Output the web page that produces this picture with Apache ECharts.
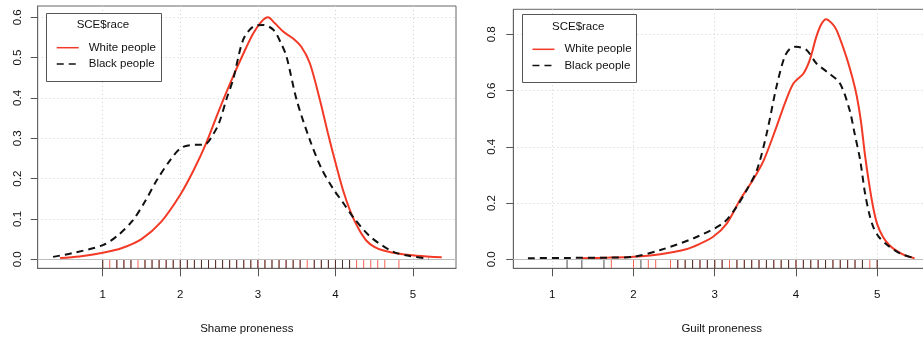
<!DOCTYPE html>
<html>
<head>
<meta charset="utf-8">
<script src="https://cdn.jsdelivr.net/npm/echarts@6/dist/echarts.min.js"></script>
<style>
html,body{margin:0;padding:0;background:#fff;}
#chart{width:923px;height:337px;}
</style>
</head>
<body>
<div id="chart"></div>
<script>
// ---------- data ----------
const legendTitle = 'SCE$race';
const groupNames = ['White people', 'Black people'];
const xTickValues = [1, 2, 3, 4, 5];
const shameYTicks = [0, 0.1, 0.2, 0.3, 0.4, 0.5, 0.6];
const guiltYTicks = [0, 0.2, 0.4, 0.6, 0.8];
const shameTitle = 'Shame proneness';
const guiltTitle = 'Guilt proneness';

const shameWhite = [[0.45,0.003],[0.7,0.007],[1.0,0.016],[1.25,0.028],[1.5,0.05],[1.75,0.092],[2.0,0.16],[2.17,0.22],[2.33,0.286],[2.5,0.37],[2.68,0.453],[2.85,0.525],[2.94,0.56],[3.05,0.59],[3.13,0.60],[3.22,0.585],[3.33,0.564],[3.45,0.548],[3.56,0.527],[3.67,0.486],[3.8,0.395],[3.9,0.315],[4.0,0.24],[4.1,0.17],[4.2,0.115],[4.3,0.075],[4.4,0.046],[4.5,0.031],[4.62,0.022],[4.85,0.013],[5.05,0.009],[5.37,0.005]];
const shameBlack = [[0.36,0.006],[0.6,0.015],[1.0,0.035],[1.2,0.06],[1.39,0.097],[1.55,0.145],[1.70,0.197],[1.87,0.246],[2.0,0.275],[2.12,0.283],[2.22,0.284],[2.32,0.285],[2.43,0.312],[2.5,0.338],[2.6,0.40],[2.68,0.445],[2.81,0.544],[2.94,0.577],[3.07,0.581],[3.2,0.569],[3.3,0.535],[3.37,0.502],[3.5,0.395],[3.67,0.296],[3.82,0.225],[3.97,0.175],[4.1,0.14],[4.23,0.104],[4.45,0.056],[4.74,0.019],[4.96,0.008],[5.2,0.002]];
const guiltWhite = [[1.36,0.004],[1.7,0.006],[2.0,0.009],[2.33,0.018],[2.6,0.032],[2.74,0.045],[2.98,0.08],[3.15,0.128],[3.31,0.211],[3.47,0.282],[3.6,0.35],[3.76,0.471],[3.87,0.56],[3.97,0.626],[4.09,0.66],[4.17,0.709],[4.25,0.791],[4.31,0.835],[4.37,0.854],[4.44,0.84],[4.5,0.815],[4.62,0.72],[4.7,0.64],[4.75,0.578],[4.8,0.49],[4.85,0.37],[4.9,0.27],[4.95,0.185],[5.0,0.125],[5.07,0.08],[5.15,0.05],[5.24,0.03],[5.35,0.013],[5.46,0.004]];
const guiltBlack = [[0.7,0.004],[1.2,0.005],[1.7,0.006],[2.0,0.009],[2.33,0.033],[2.74,0.075],[3.1,0.128],[3.27,0.187],[3.4,0.25],[3.52,0.318],[3.64,0.448],[3.76,0.614],[3.86,0.72],[3.93,0.75],[4.0,0.756],[4.13,0.744],[4.25,0.697],[4.38,0.667],[4.54,0.626],[4.66,0.531],[4.72,0.45],[4.79,0.353],[4.85,0.235],[4.9,0.165],[4.95,0.116],[5.02,0.08],[5.12,0.052],[5.28,0.021],[5.46,0.004]];

// rug (observed values)
const shameRugWhite = [1.000,1.091,1.182,1.273,1.364,1.455,1.545,1.636,1.727,1.818,1.909,2.000,2.091,2.182,2.273,2.364,2.455,2.545,2.636,2.727,2.818,2.909,3.000,3.091,3.182,3.273,3.364,3.455,3.545,3.636,3.727,3.818,3.909,4.000,4.091,4.182,4.273,4.364,4.455,4.545,4.636,4.818];
const shameRugBlack = [1.000,1.182,1.273,1.364,1.545,1.636,1.727,1.818,1.909,2.000,2.091,2.182,2.273,2.364,2.455,2.545,2.636,2.727,2.818,2.909,3.000,3.091,3.182,3.273,3.364,3.455,3.545,3.727,3.818,3.909,4.000,4.091,4.182];
const guiltRugWhite = [1.727,2.000,2.182,2.273,2.455,2.545,2.636,2.727,2.818,2.909,3.000,3.091,3.182,3.273,3.364,3.455,3.545,3.636,3.727,3.818,3.909,4.000,4.091,4.182,4.273,4.364,4.455,4.545,4.636,4.727,4.818,4.909,5.000];
const guiltRugBlack = [1.182,1.364,1.636,2.091,2.545,2.636,2.727,2.818,2.909,3.000,3.091,3.273,3.364,3.455,3.545,3.636,3.727,3.818,3.909,4.000,4.091,4.182,4.273,4.364,4.455,4.545,4.636,4.727,4.818,5.000];

// ---------- style ----------
const RED = '#f23a26';
const BLACK = '#111111';
const FONT = 'Liberation Sans, Arial, sans-serif';
const FS = 11.5;

const panels = [
  {grid:{left:37.7, top:6, right:467, bottom:68.7}, xMin:0.162, xMax:5.554, yMin:-0.0223, yMax:0.628,
   yTicks:shameYTicks, title:shameTitle, white:shameWhite, black:shameBlack, rugW:shameRugWhite, rugB:shameRugBlack, yMargin:14,
   box:{x:46, y:12.7, w:114.7, h:68.3}, leg:{left:56, top:41.7}},
  {grid:{left:513.3, top:9.3, right:-7, bottom:68.7}, xMin:0.52, xMax:5.65, yMin:-0.032, yMax:0.889,
   yTicks:guiltYTicks, title:guiltTitle, white:guiltWhite, black:guiltBlack, rugW:guiltRugWhite, rugB:guiltRugBlack, yMargin:15,
   box:{x:521.7, y:14.3, w:114, h:68}, leg:{left:531.7, top:43.3}}
];

const grid = [], xAxis = [], yAxis = [], series = [], legend = [], graphic = [];
panels.forEach((p, i) => {
  grid.push(Object.assign({show:true, borderColor:'#666', borderWidth:1, backgroundColor:'#fff',
                           containLabel:false, outerBoundsMode:'none'}, p.grid));
  xAxis.push({
    type:'value', gridIndex:i, min:p.xMin, max:p.xMax, position:'bottom',
    name:p.title, nameLocation:'middle', nameGap:55,
    nameTextStyle:{color:'#111', fontSize:FS, fontFamily:FONT},
    axisLine:{show:true, onZero:false, lineStyle:{color:'#666', width:1}},
    axisTick:{show:true, inside:false, length:8, customValues:xTickValues, lineStyle:{color:'#555', width:1}},
    axisLabel:{show:true, margin:20.5, customValues:xTickValues, color:'#111', fontSize:FS, fontFamily:FONT,
               formatter:v => String(v)},
    splitLine:{show:true, lineStyle:{color:'#d0d0d0', type:[1,3], width:1}}
  });
  yAxis.push({
    type:'value', gridIndex:i, min:p.yMin, max:p.yMax, position:'left',
    axisLine:{show:true, onZero:false, lineStyle:{color:'#666', width:1}},
    axisTick:{show:true, inside:false, length:7, customValues:p.yTicks, lineStyle:{color:'#555', width:1}},
    axisLabel:{show:true, rotate:90, margin:p.yMargin, customValues:p.yTicks, color:'#111', fontSize:FS, fontFamily:FONT,
               formatter:v => v.toFixed(1)},
    splitLine:{show:true, lineStyle:{color:'#d0d0d0', type:[1,3], width:1}}
  });
  series.push({
    type:'scatter', xAxisIndex:i, yAxisIndex:i, silent:true, clip:false, z:1,
    symbol:'rect', symbolSize:[1,9], symbolOffset:[0,-4.5],
    itemStyle:{color:RED},
    data:p.rugW.map(v => [v, p.yMin])
  });
  series.push({
    type:'scatter', xAxisIndex:i, yAxisIndex:i, silent:true, clip:false, z:2,
    symbol:'rect', symbolSize:[1,9], symbolOffset:[0,-4.5],
    itemStyle:{color:'#222'},
    data:p.rugB.map(v => [v, p.yMin])
  });
  series.push({
    type:'line', name:groupNames[0], xAxisIndex:i, yAxisIndex:i, showSymbol:false, symbol:'none',
    smooth:0.3, z:4,
    lineStyle:{color:RED, width:2}, itemStyle:{color:RED},
    data:p.white,
    markLine:{silent:true, symbol:'none', label:{show:false}, animation:false,
              lineStyle:{color:'#bdbdbd', type:'solid', width:1}, data:[{yAxis:0}]}
  });
  series.push({
    type:'line', name:groupNames[1], xAxisIndex:i, yAxisIndex:i, showSymbol:false, symbol:'none',
    smooth:0.3, z:5,
    lineStyle:{color:BLACK, width:2, type:[7,5]}, itemStyle:{color:BLACK},
    data:p.black
  });
  legend.push({
    show:true, orient:'vertical', left:p.leg.left, top:p.leg.top, padding:0, z:20,
    itemWidth:22, itemHeight:12, itemGap:4.3,
    data:groupNames, selectedMode:false,
    itemStyle:{opacity:0},
    lineStyle:{width:1.5},
    textStyle:{color:'#111', fontSize:FS, fontFamily:FONT, padding:[0,0,0,5]}
  });
  graphic.push({
    type:'rect', silent:true, z:10,
    shape:{x:Math.round(p.box.x)+0.5, y:Math.round(p.box.y)+0.5, width:Math.round(p.box.w), height:Math.round(p.box.h)},
    style:{fill:'#fff', stroke:'#555', lineWidth:1}
  });
  graphic.push({
    type:'text', silent:true, z:11,
    x:p.box.x + p.box.w/2 - 0.5, y:p.box.y + 12.5,
    style:{text:legendTitle, fill:'#111', font:FS + 'px ' + FONT, textAlign:'center', textVerticalAlign:'middle'}
  });
});

const chart = echarts.init(document.getElementById('chart'), null, {renderer:'canvas'});
chart.setOption({
  animation:false,
  backgroundColor:'#fff',
  grid, xAxis, yAxis, series, legend, graphic
});
</script>
</body>
</html>
